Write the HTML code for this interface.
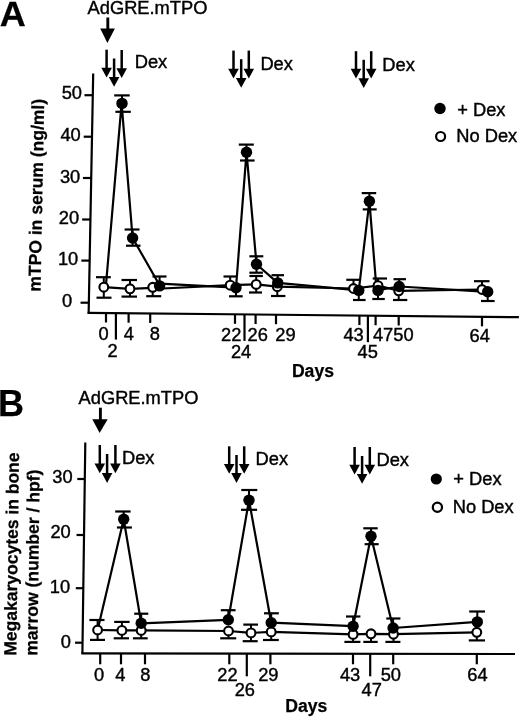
<!DOCTYPE html>
<html><head><meta charset="utf-8"><style>
html,body{margin:0;padding:0;background:#fff;}
body{width:520px;height:717px;overflow:hidden;}
svg{display:block;will-change:transform;}
text{font-family:"Liberation Sans",sans-serif;fill:#000;stroke:#000;stroke-width:0.4px;}
</style></head><body>
<svg width="520" height="717" viewBox="0 0 520 717">
<rect width="520" height="717" fill="#fff"/>
<g stroke="#000" fill="#000" stroke-linecap="butt">
<text transform="translate(-0.30,26.20) scale(1.03,1)" font-size="35" font-weight="bold" style="stroke-width:0.25px">A</text>
<text x="87.56" y="14.00" font-size="18.3">AdGRE.mTPO</text>
<line x1="107.8" y1="17.5" x2="107.8" y2="29.5" stroke-width="2.9"/>
<polygon points="100.2,28.5 114.9,28.5 107.4,42.9" stroke="none"/>
<line x1="106.6" y1="49.7" x2="106.6" y2="68.8" stroke-width="2.5"/>
<polygon points="101.30,67.80 111.90,67.80 106.60,77.60" stroke="none"/>
<line x1="114.1" y1="58.5" x2="114.1" y2="77.9" stroke-width="2.5"/>
<polygon points="108.80,76.90 119.40,76.90 114.10,86.70" stroke="none"/>
<line x1="121.7" y1="50" x2="121.7" y2="69.2" stroke-width="2.5"/>
<polygon points="116.40,68.20 127.00,68.20 121.70,78.00" stroke="none"/>
<line x1="233.5" y1="50.6" x2="233.5" y2="69.7" stroke-width="2.5"/>
<polygon points="228.20,68.70 238.80,68.70 233.50,78.50" stroke="none"/>
<line x1="241.2" y1="59.2" x2="241.2" y2="78.9" stroke-width="2.5"/>
<polygon points="235.90,77.90 246.50,77.90 241.20,87.70" stroke="none"/>
<line x1="248.8" y1="50.6" x2="248.8" y2="69.7" stroke-width="2.5"/>
<polygon points="243.50,68.70 254.10,68.70 248.80,78.50" stroke="none"/>
<line x1="356" y1="51.2" x2="356" y2="69.7" stroke-width="2.5"/>
<polygon points="350.70,68.70 361.30,68.70 356.00,78.50" stroke="none"/>
<line x1="363.7" y1="59.8" x2="363.7" y2="79.2" stroke-width="2.5"/>
<polygon points="358.40,78.20 369.00,78.20 363.70,88.00" stroke="none"/>
<line x1="371.2" y1="51.2" x2="371.2" y2="69.7" stroke-width="2.5"/>
<polygon points="365.90,68.70 376.50,68.70 371.20,78.50" stroke="none"/>
<text x="134.70" y="68.20" font-size="18.3">Dex</text>
<text x="260.40" y="69.80" font-size="18.3">Dex</text>
<text x="382.30" y="70.80" font-size="18.3">Dex</text>
<line x1="93.2" y1="73.4" x2="88.65" y2="313.6" stroke-width="2.2"/>
<line x1="87.6" y1="312.8" x2="518.9" y2="317.2" stroke-width="2.2"/>
<line x1="84.4860183639399" y1="95.2" x2="92.7860183639399" y2="95.2" stroke-width="2.2"/>
<text x="61.66" y="98.80" font-size="18.3">50</text>
<line x1="83.69793405676127" y1="136.7" x2="91.99793405676127" y2="136.7" stroke-width="2.2"/>
<text x="60.46" y="140.60" font-size="18.3">40</text>
<line x1="82.91364774624374" y1="178" x2="91.21364774624374" y2="178" stroke-width="2.2"/>
<text x="59.96" y="183.30" font-size="18.3">30</text>
<line x1="82.12556343906512" y1="219.5" x2="90.42556343906512" y2="219.5" stroke-width="2.2"/>
<text x="58.76" y="223.80" font-size="18.3">20</text>
<line x1="81.3450751252087" y1="260.6" x2="89.64507512520869" y2="260.6" stroke-width="2.2"/>
<text x="57.96" y="265.20" font-size="18.3">10</text>
<line x1="80.54559682804675" y1="302.7" x2="88.84559682804675" y2="302.7" stroke-width="2.2"/>
<text x="62.04" y="307.00" font-size="18.3">0</text>
<text transform="translate(40.60,290.60) rotate(-88.95)" x="-1.16" y="0" font-size="17.55" font-weight="bold" style="stroke-width:0.25px">mTPO in serum (ng/ml)</text>
<line x1="106" y1="312.97743172574087" x2="106" y2="322.47743172574087" stroke-width="2.2"/>
<line x1="115.9" y1="313.0786751888437" x2="115.9" y2="339.5786751888437" stroke-width="2.2"/>
<line x1="128.6" y1="313.2085531667635" x2="128.6" y2="322.7085531667635" stroke-width="2.2"/>
<line x1="150.2" y1="313.42944799535155" x2="150.2" y2="322.92944799535155" stroke-width="2.2"/>
<line x1="235" y1="314.29666472980824" x2="235" y2="323.79666472980824" stroke-width="2.2"/>
<line x1="244.5" y1="314.39381754793726" x2="244.5" y2="340.89381754793726" stroke-width="2.2"/>
<line x1="255.6" y1="314.50733294596165" x2="255.6" y2="324.00733294596165" stroke-width="2.2"/>
<line x1="276" y1="314.7159558396281" x2="276" y2="324.2159558396281" stroke-width="2.2"/>
<line x1="359.4" y1="315.5688553166763" x2="359.4" y2="325.0688553166763" stroke-width="2.2"/>
<line x1="367.9" y1="315.6557815223707" x2="367.9" y2="342.1557815223707" stroke-width="2.2"/>
<line x1="375.6" y1="315.73452643811737" x2="375.6" y2="325.23452643811737" stroke-width="2.2"/>
<line x1="398.7" y1="315.97076118535733" x2="398.7" y2="325.47076118535733" stroke-width="2.2"/>
<line x1="482" y1="316.8226380011621" x2="482" y2="326.3226380011621" stroke-width="2.2"/>
<text x="98.39" y="339.90" font-size="18.3">0</text>
<text x="123.78" y="339.90" font-size="18.3">4</text>
<text x="149.70" y="339.90" font-size="18.3">8</text>
<text x="220.98" y="340.50" font-size="18.3">22</text>
<text x="247.58" y="340.70" font-size="18.3">26</text>
<text x="275.28" y="340.70" font-size="18.3">29</text>
<text x="343.38" y="340.80" font-size="18.3">43</text>
<text x="372.88" y="341.00" font-size="18.3">4750</text>
<text x="469.47" y="342.40" font-size="18.3">64</text>
<text x="107.58" y="356.50" font-size="18.3">2</text>
<text x="230.88" y="357.80" font-size="18.3">24</text>
<text x="357.58" y="357.80" font-size="18.3">45</text>
<text x="291.92" y="376.80" font-size="17.6" font-weight="bold" style="stroke-width:0.25px">Days</text>
<circle cx="440.0" cy="108.5" r="5.7" stroke="none"/>
<circle cx="440.6" cy="136.5" r="4.5" fill="#fff" stroke-width="2.2"/>
<text x="457.21" y="115.60" font-size="18.3">+ Dex</text>
<text x="456.30" y="142.30" font-size="18.3">No Dex</text>
<polyline points="105.8,287 121.6,103.4 132.6,238 159.6,285.2" fill="none" stroke-width="2.2" stroke-linejoin="round"/>
<polyline points="159.7,283.6 236,287.7 246.5,152.3 256.5,264.2 277.7,282.9 358.8,290.4 369.4,201.2 376.6,290.4 399.2,286.5 487.7,291.8" fill="none" stroke-width="2.2" stroke-linejoin="round"/>
<polyline points="103.8,287.2 130,288.8 152.7,287.8" fill="none" stroke-width="2.2" stroke-linejoin="round"/>
<polyline points="152.7,289 230.2,285.2 256.2,284.4 277.3,286.7 353.5,288.5 378,285.6 398.7,290.8 482,289.5" fill="none" stroke-width="2.2" stroke-linejoin="round"/>
<line x1="122" y1="103.4" x2="122" y2="95.4" stroke-width="2.0"/>
<line x1="114.2" y1="95.4" x2="129.7" y2="95.4" stroke-width="2.2"/>
<line x1="122" y1="103.4" x2="122" y2="111.8" stroke-width="2.0"/>
<line x1="115.4" y1="111.8" x2="130.8" y2="111.8" stroke-width="2.2"/>
<line x1="132.6" y1="238" x2="132.6" y2="229.5" stroke-width="2.0"/>
<line x1="124.6" y1="229.5" x2="139.5" y2="229.5" stroke-width="2.2"/>
<line x1="132.6" y1="238" x2="132.6" y2="245.7" stroke-width="2.0"/>
<line x1="126" y1="245.7" x2="140.5" y2="245.7" stroke-width="2.2"/>
<line x1="246.5" y1="152.3" x2="246.5" y2="144.6" stroke-width="2.0"/>
<line x1="238.8" y1="144.6" x2="253.8" y2="144.6" stroke-width="2.2"/>
<line x1="246.5" y1="152.3" x2="246.5" y2="160.5" stroke-width="2.0"/>
<line x1="240" y1="160.5" x2="254.6" y2="160.5" stroke-width="2.2"/>
<line x1="256.5" y1="264.2" x2="256.5" y2="256.3" stroke-width="2.0"/>
<line x1="249.4" y1="256.3" x2="263.3" y2="256.3" stroke-width="2.2"/>
<line x1="256.5" y1="264.2" x2="256.5" y2="272.7" stroke-width="2.0"/>
<line x1="249.4" y1="272.7" x2="262.9" y2="272.7" stroke-width="2.2"/>
<line x1="369.4" y1="201.2" x2="369.4" y2="193.1" stroke-width="2.0"/>
<line x1="361.7" y1="193.1" x2="376.2" y2="193.1" stroke-width="2.2"/>
<line x1="369.4" y1="201.2" x2="369.4" y2="209.4" stroke-width="2.0"/>
<line x1="362.7" y1="209.4" x2="376.7" y2="209.4" stroke-width="2.2"/>
<line x1="103.8" y1="287.2" x2="103.8" y2="277.2" stroke-width="2.0"/>
<line x1="96" y1="277.2" x2="110.8" y2="277.2" stroke-width="2.2"/>
<line x1="103.8" y1="287.2" x2="103.8" y2="297.7" stroke-width="2.0"/>
<line x1="96.5" y1="297.7" x2="111.5" y2="297.7" stroke-width="2.2"/>
<line x1="130" y1="288.8" x2="130" y2="280" stroke-width="2.0"/>
<line x1="121.5" y1="280" x2="137" y2="280" stroke-width="2.2"/>
<line x1="130" y1="288.8" x2="130" y2="296.6" stroke-width="2.0"/>
<line x1="121.5" y1="296.6" x2="137" y2="296.6" stroke-width="2.2"/>
<line x1="159.6" y1="285.9" x2="159.6" y2="276.5" stroke-width="2.0"/>
<line x1="152.5" y1="276.5" x2="166.5" y2="276.5" stroke-width="2.2"/>
<line x1="152.7" y1="287.3" x2="152.7" y2="296.2" stroke-width="2.0"/>
<line x1="146.2" y1="296.2" x2="161.2" y2="296.2" stroke-width="2.2"/>
<line x1="230.2" y1="285.2" x2="230.2" y2="276.5" stroke-width="2.0"/>
<line x1="223.5" y1="276.5" x2="237" y2="276.5" stroke-width="2.2"/>
<line x1="236" y1="287.7" x2="236" y2="296.3" stroke-width="2.0"/>
<line x1="229" y1="296.3" x2="242.7" y2="296.3" stroke-width="2.2"/>
<line x1="256.2" y1="284.4" x2="256.2" y2="276.0" stroke-width="2.0"/>
<line x1="249.4" y1="276.0" x2="262.9" y2="276.0" stroke-width="2.2"/>
<line x1="256.2" y1="284.4" x2="256.2" y2="292.5" stroke-width="2.0"/>
<line x1="249" y1="292.5" x2="262" y2="292.5" stroke-width="2.2"/>
<line x1="277.7" y1="282.9" x2="277.7" y2="275.2" stroke-width="2.0"/>
<line x1="271.5" y1="275.2" x2="284" y2="275.2" stroke-width="2.2"/>
<line x1="277.3" y1="286.7" x2="277.3" y2="296" stroke-width="2.0"/>
<line x1="271" y1="296" x2="285.4" y2="296" stroke-width="2.2"/>
<line x1="353.5" y1="288.5" x2="353.5" y2="279.8" stroke-width="2.0"/>
<line x1="346.3" y1="279.8" x2="360.8" y2="279.8" stroke-width="2.2"/>
<line x1="358.8" y1="290.4" x2="358.8" y2="300" stroke-width="2.0"/>
<line x1="353" y1="300" x2="365.6" y2="300" stroke-width="2.2"/>
<line x1="378" y1="285.6" x2="378" y2="278.5" stroke-width="2.0"/>
<line x1="372.7" y1="278.5" x2="387" y2="278.5" stroke-width="2.2"/>
<line x1="378" y1="290.4" x2="378" y2="299" stroke-width="2.0"/>
<line x1="372.3" y1="299" x2="384.8" y2="299" stroke-width="2.2"/>
<line x1="399.2" y1="286.5" x2="399.2" y2="279.2" stroke-width="2.0"/>
<line x1="393.5" y1="279.2" x2="406" y2="279.2" stroke-width="2.2"/>
<line x1="398.7" y1="290.8" x2="398.7" y2="300" stroke-width="2.0"/>
<line x1="393" y1="300" x2="407.3" y2="300" stroke-width="2.2"/>
<line x1="482" y1="289.5" x2="482" y2="281.2" stroke-width="2.0"/>
<line x1="474" y1="281.2" x2="489.5" y2="281.2" stroke-width="2.2"/>
<line x1="487.7" y1="291.8" x2="487.7" y2="301" stroke-width="2.0"/>
<line x1="481" y1="301" x2="494.6" y2="301" stroke-width="2.2"/>
<circle cx="103.8" cy="287.2" r="4.4" fill="#fff" stroke-width="2.1"/>
<circle cx="130" cy="288.8" r="4.4" fill="#fff" stroke-width="2.1"/>
<circle cx="152.7" cy="287.3" r="4.4" fill="#fff" stroke-width="2.1"/>
<circle cx="230.2" cy="285.2" r="4.4" fill="#fff" stroke-width="2.1"/>
<circle cx="256.2" cy="284.4" r="4.4" fill="#fff" stroke-width="2.1"/>
<circle cx="277.3" cy="286.7" r="4.4" fill="#fff" stroke-width="2.1"/>
<circle cx="353.5" cy="288.5" r="4.4" fill="#fff" stroke-width="2.1"/>
<circle cx="378" cy="285.6" r="4.4" fill="#fff" stroke-width="2.1"/>
<circle cx="398.7" cy="290.8" r="4.4" fill="#fff" stroke-width="2.1"/>
<circle cx="482" cy="289.5" r="4.4" fill="#fff" stroke-width="2.1"/>
<circle cx="122" cy="103.4" r="5.7" stroke="none"/>
<circle cx="132.6" cy="238" r="5.7" stroke="none"/>
<circle cx="159.6" cy="285.9" r="5.7" stroke="none"/>
<circle cx="236" cy="287.7" r="5.7" stroke="none"/>
<circle cx="246.5" cy="152.3" r="5.7" stroke="none"/>
<circle cx="256.5" cy="264.2" r="5.7" stroke="none"/>
<circle cx="277.7" cy="282.9" r="5.7" stroke="none"/>
<circle cx="358.8" cy="290.4" r="5.7" stroke="none"/>
<circle cx="369.4" cy="201.2" r="5.7" stroke="none"/>
<circle cx="378" cy="290.4" r="5.7" stroke="none"/>
<circle cx="399.2" cy="286.5" r="5.7" stroke="none"/>
<circle cx="487.7" cy="291.8" r="5.7" stroke="none"/>
<text x="-1.91" y="415.80" font-size="36" font-weight="bold" style="stroke-width:0.25px">B</text>
<text x="78.56" y="404.20" font-size="18.3">AdGRE.mTPO</text>
<line x1="100.4" y1="407.7" x2="100.4" y2="420.2" stroke-width="2.9"/>
<polygon points="92.3,419.2 107.7,419.2 99.6,433.1" stroke="none"/>
<line x1="99.8" y1="445" x2="99.8" y2="464.5" stroke-width="2.5"/>
<polygon points="94.50,463.50 105.10,463.50 99.80,473.30" stroke="none"/>
<line x1="107.1" y1="454" x2="107.1" y2="474.09999999999997" stroke-width="2.5"/>
<polygon points="101.80,473.10 112.40,473.10 107.10,482.90" stroke="none"/>
<line x1="115.4" y1="445" x2="115.4" y2="464.5" stroke-width="2.5"/>
<polygon points="110.10,463.50 120.70,463.50 115.40,473.30" stroke="none"/>
<line x1="229.2" y1="446.3" x2="229.2" y2="465.0" stroke-width="2.5"/>
<polygon points="223.90,464.00 234.50,464.00 229.20,473.80" stroke="none"/>
<line x1="236.5" y1="455" x2="236.5" y2="474.09999999999997" stroke-width="2.5"/>
<polygon points="231.20,473.10 241.80,473.10 236.50,482.90" stroke="none"/>
<line x1="244.2" y1="446.3" x2="244.2" y2="465.0" stroke-width="2.5"/>
<polygon points="238.90,464.00 249.50,464.00 244.20,473.80" stroke="none"/>
<line x1="354.6" y1="447" x2="354.6" y2="465.8" stroke-width="2.5"/>
<polygon points="349.30,464.80 359.90,464.80 354.60,474.60" stroke="none"/>
<line x1="362.1" y1="456" x2="362.1" y2="475.0" stroke-width="2.5"/>
<polygon points="356.80,474.00 367.40,474.00 362.10,483.80" stroke="none"/>
<line x1="369.8" y1="447" x2="369.8" y2="465.8" stroke-width="2.5"/>
<polygon points="364.50,464.80 375.10,464.80 369.80,474.60" stroke="none"/>
<text x="122.00" y="464.20" font-size="18.3">Dex</text>
<text x="255.60" y="465.20" font-size="18.3">Dex</text>
<text x="376.50" y="465.60" font-size="18.3">Dex</text>
<line x1="85.3" y1="442.4" x2="82.4" y2="653.8" stroke-width="2.2"/>
<line x1="81.4" y1="653.4" x2="515" y2="654.0" stroke-width="2.2"/>
<line x1="77.2960113960114" y1="479" x2="84.7960113960114" y2="479" stroke-width="2.2"/>
<text x="52.36" y="483.20" font-size="18.3">30</text>
<line x1="76.52488129154796" y1="535" x2="84.02488129154796" y2="535" stroke-width="2.2"/>
<text x="50.46" y="538.40" font-size="18.3">20</text>
<line x1="75.79230769230769" y1="588.2" x2="83.29230769230769" y2="588.2" stroke-width="2.2"/>
<text x="49.86" y="592.80" font-size="18.3">10</text>
<line x1="75.04183285849953" y1="642.7" x2="82.54183285849953" y2="642.7" stroke-width="2.2"/>
<text x="60.64" y="647.60" font-size="18.3">0</text>
<text transform="translate(16.20,654.60) rotate(-89.2)" x="-1.17" y="0" font-size="17.5" font-weight="bold" style="stroke-width:0.25px">Megakaryocytes in bone</text>
<text transform="translate(37.30,654.60) rotate(-89.3)" x="-1.16" y="0" font-size="17.55" font-weight="bold" style="stroke-width:0.25px">marrow (number / hpf)</text>
<line x1="100.2" y1="653.7" x2="100.2" y2="664.3000000000001" stroke-width="2.2"/>
<line x1="121" y1="653.7" x2="121" y2="664.3000000000001" stroke-width="2.2"/>
<line x1="145" y1="653.7" x2="145" y2="664.3000000000001" stroke-width="2.2"/>
<line x1="229.3" y1="653.7" x2="229.3" y2="664.3000000000001" stroke-width="2.2"/>
<line x1="246.8" y1="653.7" x2="246.8" y2="676.3000000000001" stroke-width="2.2"/>
<line x1="270.4" y1="653.7" x2="270.4" y2="664.3000000000001" stroke-width="2.2"/>
<line x1="353" y1="653.7" x2="353" y2="664.3000000000001" stroke-width="2.2"/>
<line x1="370.2" y1="653.7" x2="370.2" y2="676.3000000000001" stroke-width="2.2"/>
<line x1="393.2" y1="653.7" x2="393.2" y2="664.3000000000001" stroke-width="2.2"/>
<line x1="476.8" y1="653.7" x2="476.8" y2="664.3000000000001" stroke-width="2.2"/>
<text x="94.11" y="680.80" font-size="18.3">0</text>
<text x="115.37" y="680.80" font-size="18.3">4</text>
<text x="140.31" y="680.80" font-size="18.3">8</text>
<text x="217.32" y="681.00" font-size="18.3">22</text>
<text x="258.20" y="681.00" font-size="18.3">29</text>
<text x="339.91" y="680.80" font-size="18.3">43</text>
<text x="380.71" y="680.80" font-size="18.3">50</text>
<text x="467.33" y="680.90" font-size="18.3">64</text>
<text x="234.66" y="696.00" font-size="18.3">26</text>
<text x="361.57" y="696.30" font-size="18.3">47</text>
<text x="285.32" y="711.80" font-size="17.6" font-weight="bold" style="stroke-width:0.25px">Days</text>
<circle cx="436.3" cy="479" r="5.6" stroke="none"/>
<circle cx="437.4" cy="507.2" r="4.6" fill="#fff" stroke-width="2.2"/>
<text x="453.31" y="485.20" font-size="18.3">+ Dex</text>
<text x="452.70" y="512.70" font-size="18.3">No Dex</text>
<polyline points="97.6,630 123.7,519.2 141.2,623.3 228.3,619.8 249,500.2 271.2,622.7 353.1,626.2 371,536.2 393.1,628 477.3,621.9" fill="none" stroke-width="2.2" stroke-linejoin="round"/>
<polyline points="97.6,630 121.9,630.4 141.2,630.4 228.5,631 251,632.9 271.2,631.9 353.1,634.4 371,633.8 393.5,634.2 476.8,632.3" fill="none" stroke-width="2.2" stroke-linejoin="round"/>
<line x1="123.7" y1="519.2" x2="123.7" y2="511.5" stroke-width="2.0"/>
<line x1="115.2" y1="511.5" x2="130.6" y2="511.5" stroke-width="2.2"/>
<line x1="123.7" y1="519.2" x2="123.7" y2="527.5" stroke-width="2.0"/>
<line x1="116.9" y1="527.5" x2="131.9" y2="527.5" stroke-width="2.2"/>
<line x1="249" y1="500.2" x2="249" y2="490" stroke-width="2.0"/>
<line x1="241.3" y1="490" x2="257.3" y2="490" stroke-width="2.2"/>
<line x1="249" y1="500.2" x2="249" y2="509.8" stroke-width="2.0"/>
<line x1="241" y1="509.8" x2="257.1" y2="509.8" stroke-width="2.2"/>
<line x1="371" y1="536.2" x2="371" y2="528.3" stroke-width="2.0"/>
<line x1="363.3" y1="528.3" x2="377.7" y2="528.3" stroke-width="2.2"/>
<line x1="371" y1="536.2" x2="371" y2="544.2" stroke-width="2.0"/>
<line x1="364.6" y1="544.2" x2="378.7" y2="544.2" stroke-width="2.2"/>
<line x1="97.6" y1="630" x2="97.6" y2="620" stroke-width="2.0"/>
<line x1="89.4" y1="620" x2="104.5" y2="620" stroke-width="2.2"/>
<line x1="97.6" y1="630" x2="97.6" y2="639.9" stroke-width="2.0"/>
<line x1="90" y1="639.9" x2="105" y2="639.9" stroke-width="2.2"/>
<line x1="121.9" y1="630.4" x2="121.9" y2="621.9" stroke-width="2.0"/>
<line x1="114.2" y1="621.9" x2="129.6" y2="621.9" stroke-width="2.2"/>
<line x1="121.9" y1="630.4" x2="121.9" y2="638.3" stroke-width="2.0"/>
<line x1="113.7" y1="638.3" x2="129" y2="638.3" stroke-width="2.2"/>
<line x1="141.2" y1="623.3" x2="141.2" y2="613.7" stroke-width="2.0"/>
<line x1="134.2" y1="613.7" x2="148.3" y2="613.7" stroke-width="2.2"/>
<line x1="141.2" y1="630.4" x2="141.2" y2="638.3" stroke-width="2.0"/>
<line x1="132.9" y1="638.3" x2="147.7" y2="638.3" stroke-width="2.2"/>
<line x1="228.3" y1="619.8" x2="228.3" y2="610.2" stroke-width="2.0"/>
<line x1="220.8" y1="610.2" x2="235.6" y2="610.2" stroke-width="2.2"/>
<line x1="228.5" y1="631" x2="228.5" y2="638.3" stroke-width="2.0"/>
<line x1="220.2" y1="638.3" x2="236.2" y2="638.3" stroke-width="2.2"/>
<line x1="251" y1="632.9" x2="251" y2="624.6" stroke-width="2.0"/>
<line x1="243.3" y1="624.6" x2="258" y2="624.6" stroke-width="2.2"/>
<line x1="251" y1="632.9" x2="251" y2="641.2" stroke-width="2.0"/>
<line x1="242.7" y1="641.2" x2="257.7" y2="641.2" stroke-width="2.2"/>
<line x1="271.2" y1="622.7" x2="271.2" y2="613.3" stroke-width="2.0"/>
<line x1="264" y1="613.3" x2="278.8" y2="613.3" stroke-width="2.2"/>
<line x1="271.2" y1="631.9" x2="271.2" y2="640" stroke-width="2.0"/>
<line x1="263" y1="640" x2="278.8" y2="640" stroke-width="2.2"/>
<line x1="353.1" y1="626.2" x2="353.1" y2="616.5" stroke-width="2.0"/>
<line x1="346" y1="616.5" x2="360.4" y2="616.5" stroke-width="2.2"/>
<line x1="353.1" y1="634.4" x2="353.1" y2="641.9" stroke-width="2.0"/>
<line x1="344.4" y1="641.9" x2="360.4" y2="641.9" stroke-width="2.2"/>
<line x1="371" y1="633.8" x2="371" y2="641.9" stroke-width="2.0"/>
<line x1="363.3" y1="641.9" x2="377.7" y2="641.9" stroke-width="2.2"/>
<line x1="393.1" y1="628" x2="393.1" y2="618.5" stroke-width="2.0"/>
<line x1="386.3" y1="618.5" x2="400.4" y2="618.5" stroke-width="2.2"/>
<line x1="393.5" y1="634.2" x2="393.5" y2="641.9" stroke-width="2.0"/>
<line x1="385.4" y1="641.9" x2="400.4" y2="641.9" stroke-width="2.2"/>
<line x1="477.3" y1="621.9" x2="477.3" y2="611.5" stroke-width="2.0"/>
<line x1="469.2" y1="611.5" x2="485" y2="611.5" stroke-width="2.2"/>
<line x1="476.8" y1="632.3" x2="476.8" y2="640.4" stroke-width="2.0"/>
<line x1="468.8" y1="640.4" x2="485" y2="640.4" stroke-width="2.2"/>
<circle cx="97.6" cy="630" r="4.4" fill="#fff" stroke-width="2.1"/>
<circle cx="121.9" cy="630.4" r="4.4" fill="#fff" stroke-width="2.1"/>
<circle cx="141.2" cy="630.4" r="4.4" fill="#fff" stroke-width="2.1"/>
<circle cx="228.5" cy="631" r="4.4" fill="#fff" stroke-width="2.1"/>
<circle cx="251" cy="632.9" r="4.4" fill="#fff" stroke-width="2.1"/>
<circle cx="271.2" cy="631.9" r="4.4" fill="#fff" stroke-width="2.1"/>
<circle cx="353.1" cy="634.4" r="4.4" fill="#fff" stroke-width="2.1"/>
<circle cx="371" cy="633.8" r="4.4" fill="#fff" stroke-width="2.1"/>
<circle cx="393.5" cy="634.2" r="4.4" fill="#fff" stroke-width="2.1"/>
<circle cx="476.8" cy="632.3" r="4.4" fill="#fff" stroke-width="2.1"/>
<circle cx="123.7" cy="519.2" r="5.7" stroke="none"/>
<circle cx="141.2" cy="623.3" r="5.7" stroke="none"/>
<circle cx="228.3" cy="619.8" r="5.7" stroke="none"/>
<circle cx="249" cy="500.2" r="5.7" stroke="none"/>
<circle cx="271.2" cy="622.7" r="5.7" stroke="none"/>
<circle cx="353.1" cy="626.2" r="5.7" stroke="none"/>
<circle cx="371" cy="536.2" r="5.7" stroke="none"/>
<circle cx="393.1" cy="628" r="5.7" stroke="none"/>
<circle cx="477.3" cy="621.9" r="5.7" stroke="none"/>
</g>
</svg>
</body></html>
